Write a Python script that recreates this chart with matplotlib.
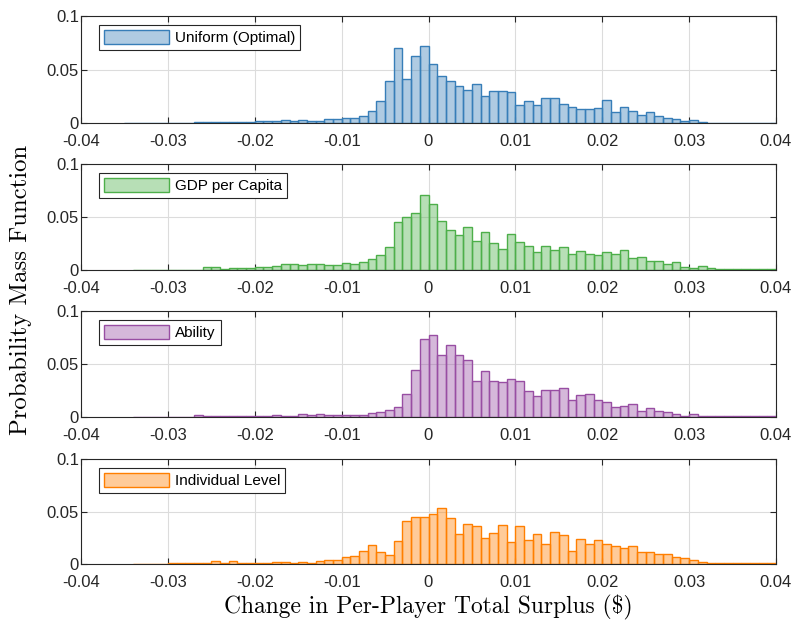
import numpy as np
import matplotlib
matplotlib.use("Agg")
import matplotlib.pyplot as plt
from matplotlib.colors import to_rgba

plt.rcParams['font.family'] = ['Liberation Sans', 'DejaVu Sans']
plt.rcParams['axes.unicode_minus'] = False

# histogram bins: width 0.001 from -0.04 to 0.04 (80 bins)
bin_edges = np.round(np.arange(-0.04, 0.04001, 0.001), 4)

# probability mass per bin
uniform = [0, 0, 0, 0, 0,
           0.0004, 0.0004, 0.0004, 0.0004, 0.0004, 0.0004, 0.0004, 0.0004,
           0.001, 0.001, 0.0005, 0.0005, 0.0005, 0.0005, 0.0005,
           0.002, 0.002, 0.002, 0.0025, 0.002, 0.0025, 0.0016, 0.002, 0.0034, 0.004,
           0.005, 0.005, 0.007, 0.0115, 0.021, 0.039, 0.070, 0.041, 0.0627, 0.072,
           0.0553, 0.0438, 0.039, 0.035, 0.031, 0.0366, 0.0255, 0.030, 0.0298, 0.0292,
           0.017, 0.0208, 0.017, 0.0233, 0.0233, 0.0177, 0.0152, 0.0134, 0.0134, 0.014,
           0.0214, 0.0102, 0.0152, 0.0112, 0.0078, 0.0102, 0.0068, 0.005, 0.0034, 0.0022,
           0.0028, 0.001, 0.0004, 0.0004, 0.0004, 0.0004, 0.0004, 0.0004, 0.0004, 0.0004]

gdp = [0, 0, 0, 0, 0, 0,
       0.0004, 0.0004, 0.0004, 0.0004, 0.0004, 0.0004, 0.0004, 0.0004,
       0.0028, 0.0028, 0.0006, 0.0019, 0.0019, 0.0019,
       0.0025, 0.0031, 0.0037, 0.0053, 0.0053, 0.005, 0.0053, 0.0056, 0.0047, 0.005,
       0.0063, 0.006, 0.008, 0.010, 0.0144, 0.0216, 0.045, 0.0497, 0.0538, 0.0703,
       0.062, 0.046, 0.0378, 0.0328, 0.0403, 0.0272, 0.036, 0.0253, 0.020, 0.034,
       0.0266, 0.0225, 0.0169, 0.0225, 0.0188, 0.0216, 0.0147, 0.0181, 0.015, 0.0144,
       0.0172, 0.0153, 0.019, 0.0116, 0.0122, 0.0084, 0.0088, 0.0056, 0.0075, 0.0028,
       0.0019, 0.0034, 0.0019, 0.0005, 0.0005, 0.0005, 0.0005, 0.0005, 0.0005, 0.0005]

ability = [0, 0, 0, 0, 0, 0,
           0.0004, 0.0004, 0.0004, 0.0004, 0.0004, 0.0004, 0.0004,
           0.0016, 0.0005, 0.0005, 0.0005, 0.0005, 0.0005, 0.0005,
           0.001, 0.0013, 0.0016, 0.001, 0.0013, 0.0028, 0.0016, 0.0025, 0.0016, 0.0016,
           0.0016, 0.0022, 0.0022, 0.0035, 0.005, 0.0066, 0.0097, 0.0214, 0.044, 0.0733,
           0.0777, 0.0588, 0.0676, 0.0582, 0.0535, 0.034, 0.0431, 0.0336, 0.0333, 0.0355,
           0.034, 0.0245, 0.0195, 0.0252, 0.0258, 0.027, 0.016, 0.0204, 0.0217, 0.0157,
           0.0138, 0.0094, 0.0104, 0.0123, 0.0057, 0.0085, 0.006, 0.0047, 0.0028, 0.0013,
           0.0025, 0.0005, 0.0005, 0.0005, 0.0005, 0.0005, 0.0005, 0.0005, 0.0005, 0.0005]

individual = [0, 0, 0, 0, 0, 0,
              0.0004, 0.0004, 0.0004, 0.0004,
              0.0006, 0.0006, 0.0006, 0.0006, 0.0006,
              0.0025, 0.0006, 0.0025, 0.001, 0.0006,
              0.0006, 0.001, 0.0016, 0.0019, 0.001, 0.0022, 0.001, 0.0032, 0.0041, 0.0041,
              0.0063, 0.0076, 0.0123, 0.0184, 0.0117, 0.0082, 0.0215, 0.0411, 0.0443, 0.0449,
              0.0472, 0.0535, 0.0437, 0.0282, 0.038, 0.0364, 0.0247, 0.0297, 0.037, 0.0206,
              0.0358, 0.0225, 0.0288, 0.0187, 0.0307, 0.0272, 0.0123, 0.0234, 0.019, 0.0225,
              0.0193, 0.0168, 0.0152, 0.0171, 0.0111, 0.0114, 0.0092, 0.0092, 0.0063, 0.0054,
              0.0041, 0.0019, 0.0006, 0.0006, 0.0006, 0.0006, 0.0006, 0.0006, 0.0006, 0.0006]

series = [uniform, gdp, ability, individual]
labels = ["Uniform (Optimal)", "GDP per Capita", "Ability", "Individual Level"]
colours = ["#377eb8", "#4daf4a", "#984ea3", "#ff7f00"]

xticks = [-0.04, -0.03, -0.02, -0.01, 0, 0.01, 0.02, 0.03, 0.04]
xticklabels = ["-0.04", "-0.03", "-0.02", "-0.01", "0", "0.01", "0.02", "0.03", "0.04"]
yticks = [0, 0.05, 0.1]
yticklabels = ["0", "0.05", "0.1"]

fig = plt.figure(figsize=(7.95, 6.31), dpi=100)

boxes = [(16, 123), (164, 270), (311, 417), (459, 564)]
left, right = 81, 776
W, H = 795, 631

for vals, lab, col, (top, bot) in zip(series, labels, colours, boxes):
    ax = fig.add_axes([left / W, 1 - bot / H, (right - left) / W, (bot - top) / H])
    vals = np.asarray(vals)
    keep = vals > 0  # empty bins are not drawn
    ax.bar(bin_edges[:-1][keep], vals[keep], width=0.001, align='edge',
           facecolor=to_rgba(col, 0.4), edgecolor=col, linewidth=1.0,
           label=lab, zorder=2)
    ax.set_xlim(-0.04, 0.04)
    ax.set_ylim(0, 0.1)
    ax.set_xticks(xticks)
    ax.set_xticklabels(xticklabels)
    ax.set_yticks(yticks)
    ax.set_yticklabels(yticklabels)
    ax.grid(True, color="#dcdcdc", linewidth=0.8, zorder=0)
    ax.set_axisbelow(True)
    ax.tick_params(direction='in', length=4, width=0.8, top=True, right=True,
                   labelsize=12, colors="#262626")
    ax.tick_params(axis='x', pad=8)
    ax.tick_params(axis='y', pad=1.5)
    for s in ax.spines.values():
        s.set_color("#262626")
        s.set_linewidth(0.8)
    leg = ax.legend(loc='upper left', bbox_to_anchor=(0.026, 0.915), borderaxespad=0,
                    fontsize=11, handlelength=4.3, handleheight=1.1,
                    fancybox=False, framealpha=1, edgecolor="#262626",
                    borderpad=0.3, handletextpad=0.4)
    leg.get_frame().set_linewidth(0.8)

fig.text(0.026, 0.5 * ((1 - 16 / H) + (1 - 564 / H)),
         "Probability Mass Function", family='cmr10',
         rotation=90, va='center', ha='center', fontsize=17.8)
fig.text((left + right) / 2 / W, 0.037,
         "Change in Per-Player Total Surplus ($)", family='cmr10',
         va='center', ha='center', fontsize=16.9)

fig.savefig("out.png", dpi=100)
